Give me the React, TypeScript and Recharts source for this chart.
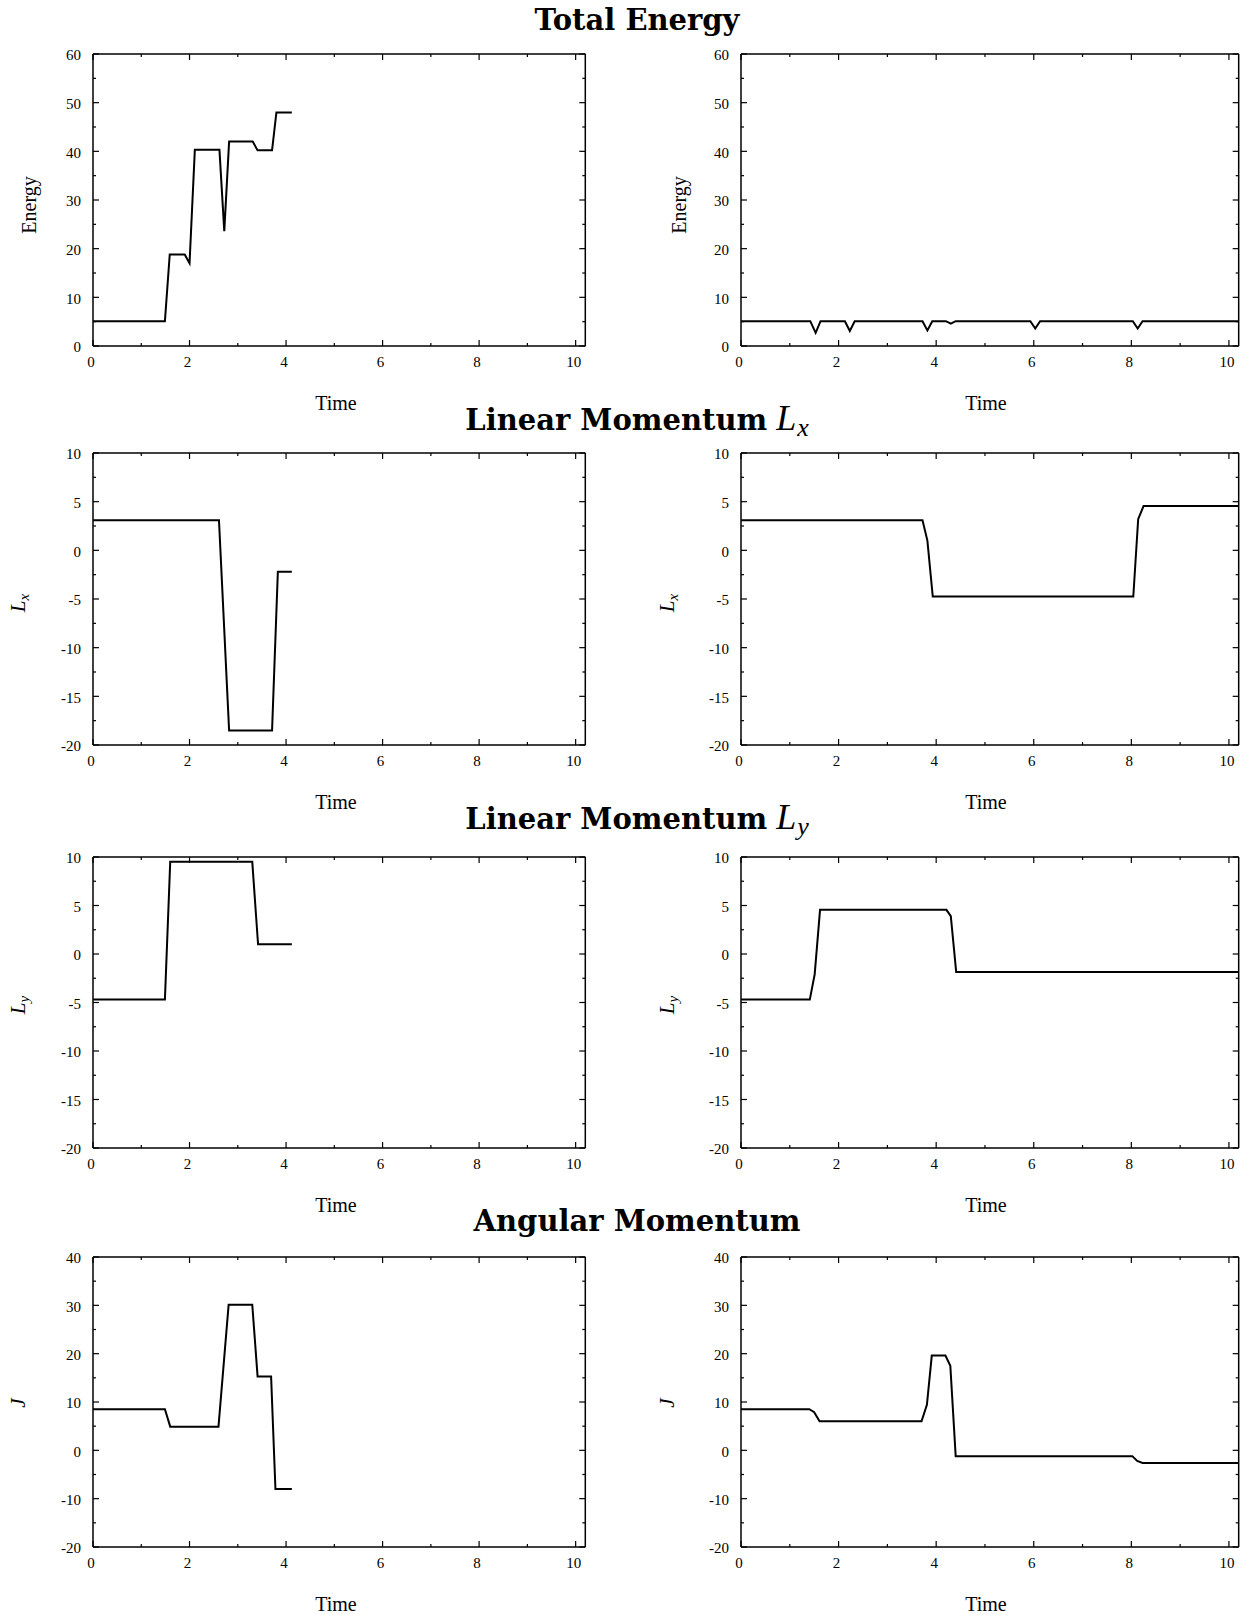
import React from 'react';
import { LineChart, Line, XAxis, YAxis } from 'recharts';

// ---------- axis ticks ----------
const timeTicks = [0, 1, 2, 3, 4, 5, 6, 7, 8, 9, 10];
const timeLabels = [0, 2, 4, 6, 8, 10];
const energyTicks = [0, 5, 10, 15, 20, 25, 30, 35, 40, 45, 50, 55, 60];
const energyLabels = [0, 10, 20, 30, 40, 50, 60];
const momentumTicks = [-20, -17.5, -15, -12.5, -10, -7.5, -5, -2.5, 0, 2.5, 5, 7.5, 10];
const momentumLabels = [-20, -15, -10, -5, 0, 5, 10];
const angularTicks = [-20, -15, -10, -5, 0, 5, 10, 15, 20, 25, 30, 35, 40];
const angularLabels = [-20, -10, 0, 10, 20, 30, 40];

// ---------- series ----------
const energyLeftTime = [0, 1.49, 1.59, 1.9, 2.0, 2.11, 2.62, 2.72, 2.82, 3.31, 3.41, 3.71, 3.8, 4.12];
const energyLeftValue = [5.1, 5.1, 18.8, 18.8, 17.0, 40.3, 40.3, 23.6, 42.0, 42.0, 40.2, 40.2, 48.0, 48.0];

const energyRightTime = [0, 1.42, 1.53, 1.63, 2.13, 2.23, 2.33, 3.72, 3.82, 3.92, 4.2, 4.3, 4.4, 5.93, 6.03, 6.13, 8.03, 8.13, 8.23, 10.2];
const energyRightValue = [5.1, 5.1, 2.7, 5.1, 5.1, 3.1, 5.1, 5.1, 3.2, 5.1, 5.1, 4.6, 5.1, 5.1, 3.6, 5.1, 5.1, 3.6, 5.1, 5.1];

const lxLeftTime = [0, 2.61, 2.82, 3.71, 3.83, 4.12];
const lxLeftValue = [3.1, 3.1, -18.5, -18.5, -2.2, -2.2];

const lxRightTime = [0, 3.72, 3.82, 3.93, 8.04, 8.14, 8.25, 10.2];
const lxRightValue = [3.1, 3.1, 1.0, -4.75, -4.75, 3.2, 4.55, 4.55];

const lyLeftTime = [0, 1.49, 1.6, 3.3, 3.42, 4.12];
const lyLeftValue = [-4.7, -4.7, 9.5, 9.5, 1.0, 1.0];

const lyRightTime = [0, 1.41, 1.51, 1.62, 4.21, 4.3, 4.41, 10.2];
const lyRightValue = [-4.7, -4.7, -2.1, 4.55, 4.55, 3.9, -1.85, -1.85];

const jLeftTime = [0, 1.49, 1.6, 2.6, 2.81, 3.3, 3.41, 3.69, 3.78, 4.12];
const jLeftValue = [8.5, 8.5, 4.9, 4.9, 30.1, 30.1, 15.3, 15.3, -8.0, -8.0];

const jRightTime = [0, 1.4, 1.5, 1.61, 3.7, 3.81, 3.91, 4.19, 4.29, 4.4, 8.02, 8.12, 8.23, 10.2];
const jRightValue = [8.5, 8.5, 7.9, 6.0, 6.0, 9.4, 19.6, 19.6, 17.5, -1.2, -1.2, -2.2, -2.6, -2.6];

const TIME_MAX = 10.2;
const LABEL_FONT = '"Liberation Serif", "Times New Roman", serif';
const TITLE_FONT = '"DejaVu Serif", serif';

const zip = (t: number[], v: number[]) => t.map((x, i) => ({ t: x, v: v[i] }));

type Side = 'bottom' | 'top' | 'left' | 'right';

const makeTick = (side: Side, labels: number[]) => (props: any) => {
  const { x, y, payload } = props;
  const val = payload.value;
  const major = labels.includes(val);
  const len = major ? 6 : 3;
  const stroke = '#000';
  if (side === 'bottom') {
    return (
      <g>
        <line x1={x} y1={y} x2={x} y2={y - len} stroke={stroke} strokeWidth={1.2} />
        {major && (
          <text x={x - 2} y={y + 21.5} textAnchor="middle" style={{ fontFamily: LABEL_FONT }} fontSize={15} fill="#000">
            {val}
          </text>
        )}
      </g>
    );
  }
  if (side === 'top') {
    return <line x1={x} y1={y} x2={x} y2={y + len} stroke={stroke} strokeWidth={1.2} />;
  }
  if (side === 'left') {
    return (
      <g>
        <line x1={x} y1={y} x2={x + len} y2={y} stroke={stroke} strokeWidth={1.2} />
        {major && (
          <text x={x - 12} y={y + 6.5} textAnchor="end" style={{ fontFamily: LABEL_FONT }} fontSize={15} fill="#000">
            {val}
          </text>
        )}
      </g>
    );
  }
  return <line x1={x} y1={y} x2={x - len} y2={y} stroke={stroke} strokeWidth={1.2} />;
};

const ML = 70;
const MR = 10;
const MT = 10;
const XH = 32;

interface PanelProps {
  left: number;
  top: number;
  plotW: number;
  plotH: number;
  time: number[];
  value: number[];
  yDomain: [number, number];
  yTicks: number[];
  yLabels: number[];
}

const Panel = ({ left, top, plotW, plotH, time, value, yDomain, yTicks, yLabels }: PanelProps) => {
  const data = zip(time, value);
  const axisLine = { stroke: '#000', strokeWidth: 1.5 };
  return (
    <div style={{ position: 'absolute', left: left - ML, top: top - MT }}>
      <LineChart
        width={plotW + ML + MR}
        height={plotH + MT + XH}
        data={data}
        margin={{ top: MT - 1, right: MR - 1, bottom: 0, left: 0 }}
      >
        <XAxis
          xAxisId="b"
          dataKey="t"
          type="number"
          domain={[0, TIME_MAX]}
          ticks={timeTicks}
          interval={0}
          height={XH}
          tickSize={0}
          tickMargin={0}
          tickLine={false}
          axisLine={axisLine}
          tick={makeTick('bottom', timeLabels)}
        />
        <XAxis
          xAxisId="t"
          orientation="top"
          dataKey="t"
          type="number"
          domain={[0, TIME_MAX]}
          ticks={timeTicks}
          interval={0}
          height={1}
          tickSize={0}
          tickMargin={0}
          tickLine={false}
          axisLine={axisLine}
          tick={makeTick('top', timeLabels)}
        />
        <YAxis
          yAxisId="l"
          type="number"
          domain={yDomain}
          ticks={yTicks}
          interval={0}
          width={ML}
          tickSize={0}
          tickMargin={0}
          tickLine={false}
          axisLine={axisLine}
          tick={makeTick('left', yLabels)}
        />
        <YAxis
          yAxisId="r"
          orientation="right"
          type="number"
          domain={yDomain}
          ticks={yTicks}
          interval={0}
          width={1}
          tickSize={0}
          tickMargin={0}
          tickLine={false}
          axisLine={axisLine}
          tick={makeTick('right', yLabels)}
        />
        <Line
          xAxisId="b"
          yAxisId="l"
          type="linear"
          dataKey="v"
          stroke="#000"
          strokeWidth={2}
          dot={false}
          isAnimationActive={false}
        />
        <Line
          xAxisId="t"
          yAxisId="r"
          type="linear"
          dataKey="v"
          stroke="none"
          strokeWidth={0}
          dot={false}
          legendType="none"
          isAnimationActive={false}
        />
      </LineChart>
    </div>
  );
};

const LEFT_X = 92.7;
const LEFT_W = 492.3;
const RIGHT_X = 741;
const RIGHT_W = 497.7;
const ROW_TOPS = [53.5, 452.5, 856.5, 1256.5];
const ROW_H = [292, 292, 291, 290];

const titles = ['Total Energy', 'Linear Momentum', 'Linear Momentum', 'Angular Momentum'];
const titleSubs = ['', 'x', 'y', ''];
const titleBaselines = [30, 429.5, 829, 1231];
const timeBaselines = [409.5, 808.5, 1211.5, 1611];
const yLabelCenters = [205, 603, 1005, 1403];

export default function App() {
  const titleMidX = 637;
  return (
    <div style={{ position: 'absolute', left: 0, top: 0, width: 1242, height: 1615, background: '#fff' }}>
      <Panel left={LEFT_X} top={ROW_TOPS[0]} plotW={LEFT_W} plotH={ROW_H[0]} time={energyLeftTime} value={energyLeftValue} yDomain={[0, 60]} yTicks={energyTicks} yLabels={energyLabels} />
      <Panel left={RIGHT_X} top={ROW_TOPS[0]} plotW={RIGHT_W} plotH={ROW_H[0]} time={energyRightTime} value={energyRightValue} yDomain={[0, 60]} yTicks={energyTicks} yLabels={energyLabels} />
      <Panel left={LEFT_X} top={ROW_TOPS[1]} plotW={LEFT_W} plotH={ROW_H[1]} time={lxLeftTime} value={lxLeftValue} yDomain={[-20, 10]} yTicks={momentumTicks} yLabels={momentumLabels} />
      <Panel left={RIGHT_X} top={ROW_TOPS[1]} plotW={RIGHT_W} plotH={ROW_H[1]} time={lxRightTime} value={lxRightValue} yDomain={[-20, 10]} yTicks={momentumTicks} yLabels={momentumLabels} />
      <Panel left={LEFT_X} top={ROW_TOPS[2]} plotW={LEFT_W} plotH={ROW_H[2]} time={lyLeftTime} value={lyLeftValue} yDomain={[-20, 10]} yTicks={momentumTicks} yLabels={momentumLabels} />
      <Panel left={RIGHT_X} top={ROW_TOPS[2]} plotW={RIGHT_W} plotH={ROW_H[2]} time={lyRightTime} value={lyRightValue} yDomain={[-20, 10]} yTicks={momentumTicks} yLabels={momentumLabels} />
      <Panel left={LEFT_X} top={ROW_TOPS[3]} plotW={LEFT_W} plotH={ROW_H[3]} time={jLeftTime} value={jLeftValue} yDomain={[-20, 40]} yTicks={angularTicks} yLabels={angularLabels} />
      <Panel left={RIGHT_X} top={ROW_TOPS[3]} plotW={RIGHT_W} plotH={ROW_H[3]} time={jRightTime} value={jRightValue} yDomain={[-20, 40]} yTicks={angularTicks} yLabels={angularLabels} />

      <svg width={1242} height={1615} style={{ position: 'absolute', left: 0, top: 0, pointerEvents: 'none' }}>
        {titles.map((t, i) => (
          <text key={'title' + i} x={titleMidX} y={titleBaselines[i]} textAnchor="middle" style={{ fontFamily: TITLE_FONT }} fontWeight="bold" fontSize={29} fill="#000">
            {t}
            {titleSubs[i] && (
              <>
                <tspan style={{ fontFamily: LABEL_FONT }} fontStyle="italic" fontWeight="normal" fontSize={36}>{' L'}</tspan>
                <tspan style={{ fontFamily: LABEL_FONT }} fontStyle="italic" fontWeight="normal" fontSize={26} dx={1} dy={6}>{titleSubs[i]}</tspan>
              </>
            )}
          </text>
        ))}
        {timeBaselines.map((b, i) => (
          <g key={'time' + i}>
            <text x={336} y={b} textAnchor="middle" style={{ fontFamily: LABEL_FONT }} fontSize={20} fill="#000">Time</text>
            <text x={986} y={b} textAnchor="middle" style={{ fontFamily: LABEL_FONT }} fontSize={20} fill="#000">Time</text>
          </g>
        ))}
        {[36, 686].map((bx) => (
          <text key={'en' + bx} x={bx} y={yLabelCenters[0]} transform={`rotate(-90 ${bx} ${yLabelCenters[0]})`} textAnchor="middle" style={{ fontFamily: LABEL_FONT }} fontSize={20} fill="#000">Energy</text>
        ))}
        {[1, 2].map((row) =>
          [25, 674].map((bx) => (
            <text key={'l' + row + bx} x={bx} y={yLabelCenters[row]} transform={`rotate(-90 ${bx} ${yLabelCenters[row]})`} textAnchor="middle" style={{ fontFamily: LABEL_FONT }} fontStyle="italic" fill="#000">
              <tspan fontSize={21}>L</tspan>
              <tspan fontSize={15} dy={4}>{titleSubs[row]}</tspan>
            </text>
          ))
        )}
        {[25, 674].map((bx) => (
          <text key={'j' + bx} x={bx} y={yLabelCenters[3]} transform={`rotate(-90 ${bx} ${yLabelCenters[3]})`} textAnchor="middle" style={{ fontFamily: LABEL_FONT }} fontStyle="italic" fontSize={21} fill="#000">J</text>
        ))}
      </svg>
    </div>
  );
}
